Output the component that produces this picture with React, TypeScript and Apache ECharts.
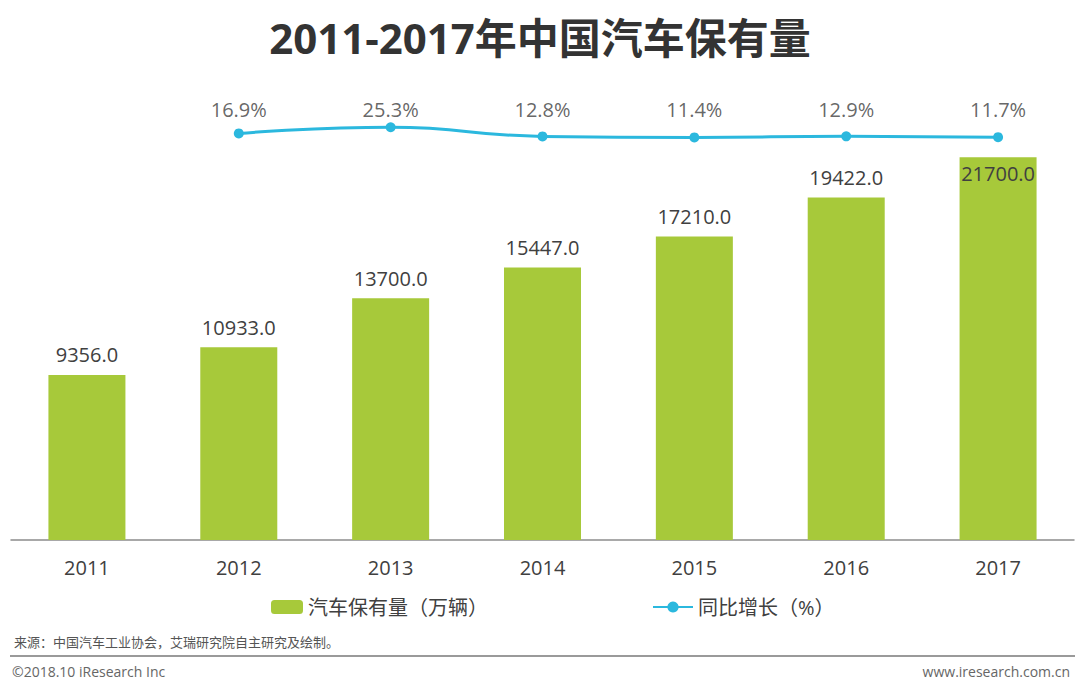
import React, { useEffect, useRef } from "react";
import * as echarts from "echarts";

const years = ["2011", "2012", "2013", "2014", "2015", "2016", "2017"];
const ownership = [9356.0, 10933.0, 13700.0, 15447.0, 17210.0, 19422.0, 21700.0];
const growth: (number | string)[] = ["-", 16.9, 25.3, 12.8, 11.4, 12.9, 11.7];

const barName = "汽车保有量（万辆）";
const lineName = "同比增长（%）";
const titleText = "2011-2017年中国汽车保有量";
const sourceText = "来源：中国汽车工业协会，艾瑞研究院自主研究及绘制。";
const copyrightText = "©2018.10 iResearch Inc";
const siteText = "www.iresearch.com.cn";

const FONT = "'Open Sans', 'Noto Sans CJK SC', sans-serif";
const GREEN = "#a7c93a";
const BLUE = "#2bb8de";
const TEXT = "#404040";
// level (on the growth axis) of the row holding the growth labels
const LABEL_ROW = 49;

export default function App() {
  const ref = useRef<HTMLDivElement>(null);
  useEffect(() => {
    if (!ref.current) return;
    const chart = echarts.init(ref.current, null, { renderer: "svg" });
    const barData = ownership.map((v, i) =>
      i === ownership.length - 1
        ? { value: v, label: { position: "insideTop", distance: 6 } }
        : v
    );
    const labelRow = growth.map((g) => (g === "-" ? "-" : LABEL_ROW));
    chart.setOption({
      animation: false,
      backgroundColor: "#ffffff",
      textStyle: { fontFamily: FONT },
      title: {
        text: titleText,
        left: "center",
        top: 11,
        textStyle: { fontSize: 42, fontWeight: "bold", color: "#333333", fontFamily: FONT },
      },
      legend: [
        {
          data: [barName],
          left: 266,
          top: 592,
          itemWidth: 32,
          itemHeight: 14,
          textStyle: { fontSize: 20, color: TEXT, fontFamily: FONT },
        },
        {
          data: [lineName],
          left: 647,
          top: 592,
          itemWidth: 40,
          itemHeight: 14,
          textStyle: { fontSize: 20, color: TEXT, fontFamily: FONT },
        },
      ],
      grid: { left: 11, right: 6, top: 99, bottom: 149 },
      xAxis: {
        type: "category",
        data: years,
        axisLine: { lineStyle: { color: "#8c8c8c", width: 1.5 } },
        axisTick: { show: false },
        axisLabel: { fontSize: 20, color: TEXT, margin: 17, fontFamily: FONT },
      },
      yAxis: [
        { type: "value", min: 0, max: 25000, show: false, splitLine: { show: false } },
        { type: "value", min: -540, max: 64, show: false, splitLine: { show: false } },
      ],
      series: [
        {
          name: barName,
          type: "bar",
          data: barData,
          barWidth: 77,
          itemStyle: { color: GREEN },
          label: {
            show: true,
            position: "top",
            distance: 10,
            fontSize: 20,
            color: TEXT,
            fontFamily: FONT,
            formatter: (p: any) => Number(p.value).toFixed(1),
          },
        },
        {
          name: lineName,
          type: "line",
          yAxisIndex: 1,
          data: growth,
          smooth: true,
          symbol: "circle",
          symbolSize: 10,
          lineStyle: { color: BLUE, width: 3 },
          itemStyle: { color: BLUE },
        },
        {
          name: "labels",
          type: "scatter",
          yAxisIndex: 1,
          data: labelRow,
          symbolSize: 0,
          silent: true,
          label: {
            show: true,
            position: "inside",
            fontSize: 20,
            color: TEXT,
            fontFamily: FONT,
            formatter: (p: any) => Number(growth[p.dataIndex]).toFixed(1) + "%",
          },
        },
      ],
      graphic: [
        {
          type: "text",
          left: 14,
          top: 635,
          style: { text: sourceText, fontSize: 13, fill: "#555555", fontFamily: FONT },
        },
        {
          type: "line",
          shape: { x1: 10, y1: 656, x2: 1075, y2: 656 },
          style: { stroke: "#9a9a9a", lineWidth: 2 },
        },
        {
          type: "text",
          left: 12,
          top: 664,
          style: { text: copyrightText, fontSize: 14, fill: "#666666", fontFamily: FONT },
        },
        {
          type: "text",
          right: 10,
          top: 664,
          style: { text: siteText, fontSize: 14, fill: "#666666", fontFamily: FONT },
        },
      ],
    });
    return () => chart.dispose();
  }, []);
  return (
    <div
      ref={ref}
      style={{ position: "fixed", left: 0, top: 0, width: 1080, height: 689 }}
    />
  );
}
